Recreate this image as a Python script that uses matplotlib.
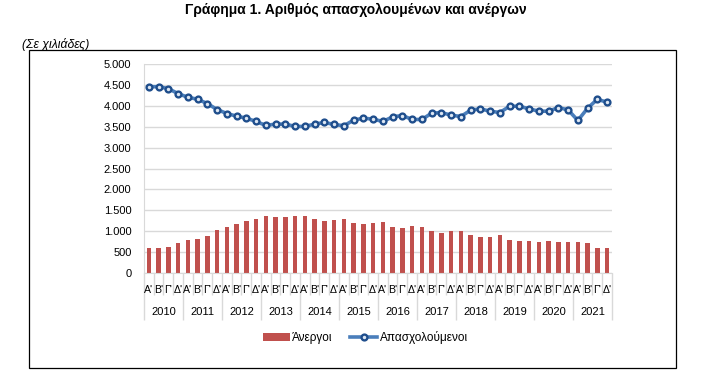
import matplotlib
matplotlib.use('Agg')
import matplotlib.pyplot as plt
import matplotlib.ticker as mticker
from matplotlib.patches import Rectangle

plt.rcParams['font.family'] = ['Liberation Sans', 'DejaVu Sans']

years = ['2010', '2011', '2012', '2013', '2014', '2015',
         '2016', '2017', '2018', '2019', '2020', '2021']
quarters = ["Α'", "Β'", "Γ'", "Δ'"]

# thousands of persons, per quarter 2010 Q1 .. 2021 Q4
unemployed = [605, 605, 629, 726, 798, 822, 895, 1040,
              1112, 1161, 1233, 1282, 1354, 1330, 1330, 1354,
              1354, 1282, 1233, 1257, 1282, 1185, 1161, 1185,
              1209, 1112, 1088, 1136, 1112, 1016, 967, 1016,
              1016, 919, 870, 870, 919, 798, 774, 774,
              750, 774, 750, 750, 750, 726, 605, 605]
employed = [4460, 4460, 4413, 4294, 4206, 4159, 4056, 3913,
            3818, 3754, 3706, 3627, 3532, 3564, 3564, 3508,
            3508, 3564, 3603, 3556, 3524, 3659, 3706, 3683,
            3627, 3738, 3770, 3675, 3675, 3825, 3841, 3778,
            3746, 3897, 3929, 3873, 3841, 3992, 3992, 3929,
            3873, 3873, 3960, 3905, 3651, 3944, 4159, 4087]

n = len(employed)
x = list(range(n))
grey = '#d9d9d9'

fig = plt.figure(figsize=(7.01, 3.75), dpi=100)
ax = fig.add_axes([0.2054, 0.272, 0.6676, 0.557])

bars = ax.bar(x, unemployed, width=0.45, color='#c0504d', label='Άνεργοι', zorder=2)
line, = ax.plot(x, employed, color='#4a7ebb', lw=2.6, marker='o', markersize=4.2,
                markerfacecolor='#dce6f2', markeredgecolor='#1f4e8c', markeredgewidth=1.7,
                label='Απασχολούμενοι', zorder=3)

ax.set_xlim(-0.5, n - 0.5)
ax.set_ylim(0, 5000)
ax.yaxis.set_major_locator(mticker.MultipleLocator(500))
ax.yaxis.set_major_formatter(mticker.FuncFormatter(
    lambda v, p: '{:,.0f}'.format(v).replace(',', '.')))
ax.yaxis.grid(True, color=grey, lw=1)
ax.set_axisbelow(True)
ax.tick_params(axis='y', length=0, labelsize=8, pad=9, colors='#000000')

for s in ['top', 'right']:
    ax.spines[s].set_visible(False)
ax.spines['left'].set_color(grey)
ax.spines['bottom'].set_color(grey)

# separators: quarter boundaries short, year boundaries long
bounds = [i - 0.5 for i in range(n + 1)]
ybounds = [i * 4 - 0.5 for i in range(len(years) + 1)]
ax.set_xticks(ybounds)
ax.set_xticks(bounds, minor=True)
ax.tick_params(axis='x', which='major', length=34, width=1, color=grey, labelbottom=False)
ax.tick_params(axis='x', which='minor', length=16, width=1, color=grey, labelbottom=False)

tr = ax.get_xaxis_transform()
for i in range(n):
    ax.text(i, -0.083, quarters[i % 4], transform=tr, ha='center', va='center', fontsize=7.6)
for j, yr in enumerate(years):
    ax.text(j * 4 + 1.5, -0.188, yr, transform=tr, ha='center', va='center', fontsize=8)

fig.legend([bars, line], ['Άνεργοι', 'Απασχολούμενοι'], loc='center',
           bbox_to_anchor=(0.521, 0.099), ncol=2, frameon=False,
           fontsize=8.5, handlelength=2.3, columnspacing=1.5, handletextpad=0.2)

fig.text(0.508, 0.973, 'Γράφημα 1. Αριθμός απασχολουμένων και ανέργων',
         ha='center', va='center', fontsize=10, fontweight='bold')
fig.text(0.031, 0.882, '(Σε χιλιάδες)', ha='left', va='center', fontsize=8.8, style='italic')

fig.patches.append(Rectangle((0.0414, 0.0187), 0.923, 0.849, transform=fig.transFigure,
                             fill=False, edgecolor='black', lw=0.9))

fig.savefig('out.png', dpi=100)
